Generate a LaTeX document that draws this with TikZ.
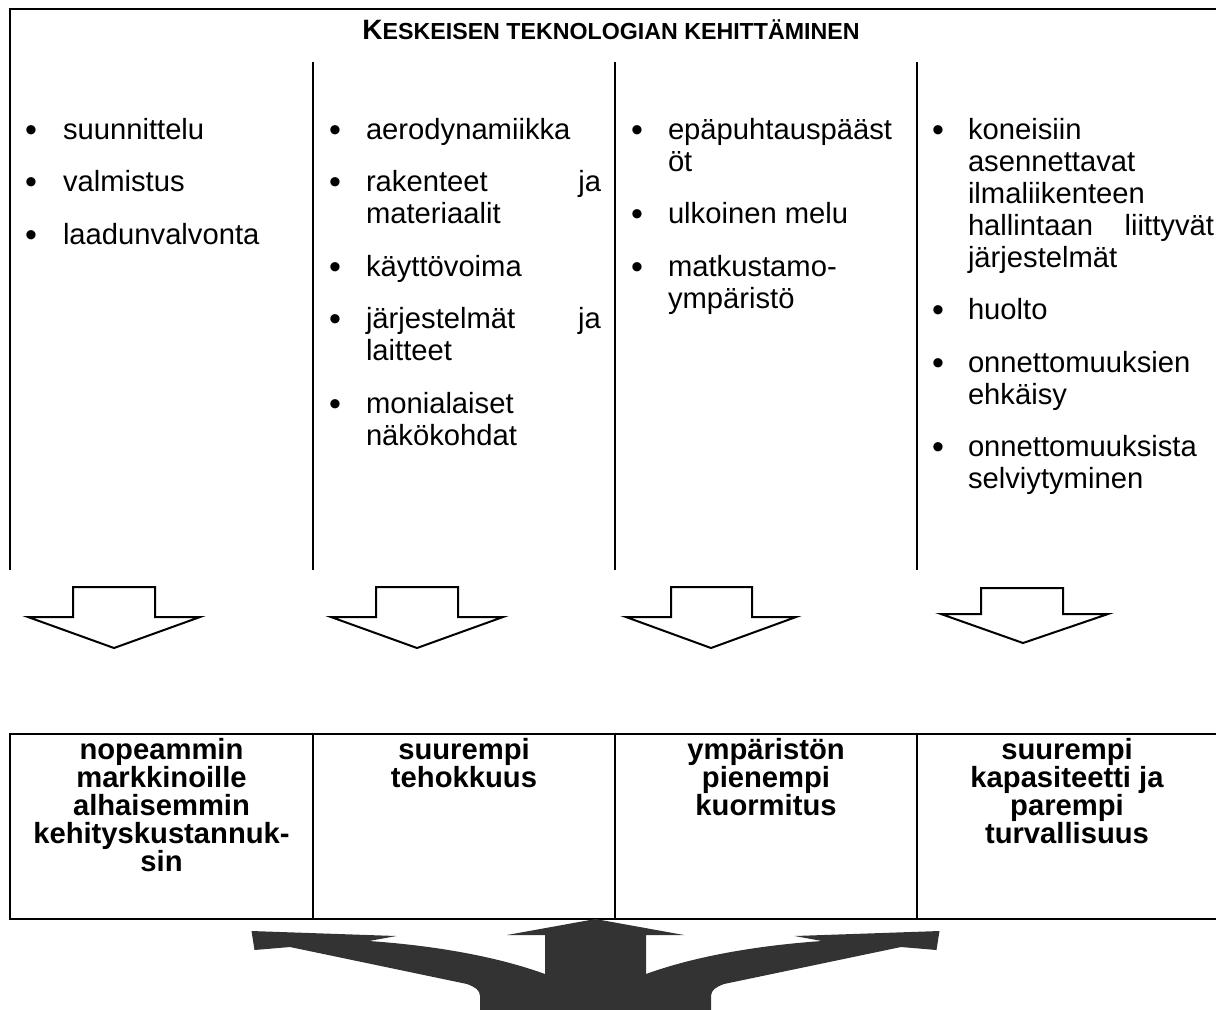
\documentclass[tikz,border=0pt]{standalone}
\usepackage{fontspec}
\setmainfont{Liberation Sans}
\definecolor{darkfill}{HTML}{333333}
\begin{document}
\begin{tikzpicture}[x=0.5pt,y=-0.5pt,line width=1pt,
  rule/.style={line width=1pt},
  bul/.style={anchor=base,inner sep=0pt,yshift=-1.2pt,font=\fontsize{17pt}{16pt}\selectfont},
  itm/.style={anchor=base west,inner sep=0pt,font=\fontsize{14.6pt}{16pt}\selectfont},
  res/.style={anchor=north,inner sep=0pt,align=center,font=\fontsize{14.6pt}{14pt}\selectfont\bfseries},
  blockarrow/.style={draw,line width=1pt,fill=white,miter limit=10},
  bigarrow/.style={fill=darkfill}]
\useasboundingbox (0,0) rectangle (1216,1009);

% top frame
\draw[rule] (10,570) -- (10,9) -- (1216,9);
\draw[rule] (313,62) -- (313,570);
\draw[rule] (615,62) -- (615,570);
\draw[rule] (917,62) -- (917,570);

\node[anchor=base,inner sep=0pt] (title) at (611,39)
  {\bfseries\fontsize{14pt}{14pt}\selectfont K\fontsize{11.6pt}{14pt}\selectfont ESKEISEN TEKNOLOGIAN KEHITTÄMINEN};

% column 1
\node[bul] (b1a) at (31,139) {•};   \node[itm] (t1a) at (62,139) {suunnittelu};
\node[bul] (b1b) at (31,191.5) {•}; \node[itm] (t1b) at (62,191.5) {valmistus};
\node[bul] (b1c) at (31,244) {•};   \node[itm] (t1c) at (62,244) {laadunvalvonta};

% column 2
\node[bul] (b2a) at (335,139) {•};   \node[itm] (t2a) at (365,139) {aerodynamiikka};
\node[bul] (b2b) at (335,191.5) {•}; \node[itm] (t2b) at (365,191.5) {\hbox to 117.5pt{rakenteet\hfill ja}};
                                     \node[itm] (t2c) at (365,223.5) {materiaalit};
\node[bul] (b2d) at (335,276) {•};   \node[itm] (t2d) at (365,276) {käyttövoima};
\node[bul] (b2e) at (335,328.5) {•}; \node[itm] (t2e) at (365,328.5) {\hbox to 117.5pt{järjestelmät\hfill ja}};
                                     \node[itm] (t2f) at (365,360.5) {laitteet};
\node[bul] (b2g) at (335,413) {•};   \node[itm] (t2g) at (365,413) {monialaiset};
                                     \node[itm] (t2h) at (365,445) {näkökohdat};

% column 3
\node[bul] (b3a) at (637,139) {•};   \node[itm] (t3a) at (667,139) {epäpuhtauspääst};
                                     \node[itm] (t3b) at (667,171) {öt};
\node[bul] (b3c) at (637,223.5) {•}; \node[itm] (t3c) at (667,223.5) {ulkoinen melu};
\node[bul] (b3d) at (637,276) {•};   \node[itm] (t3d) at (667,276) {matkustamo-};
                                     \node[itm] (t3e) at (667,308) {ympäristö};

% column 4
\node[bul] (b4a) at (938,139) {•};   \node[itm] (t4a) at (967,139) {koneisiin};
                                     \node[itm] (t4b) at (967,171) {asennettavat};
                                     \node[itm] (t4c) at (967,203) {ilmaliikenteen};
                                     \node[itm] (t4d) at (967,235) {\hbox to 123pt{hallintaan\hfill liittyvät}};
                                     \node[itm] (t4e) at (967,267) {järjestelmät};
\node[bul] (b4f) at (938,319.5) {•}; \node[itm] (t4f) at (967,319.5) {huolto};
\node[bul] (b4g) at (938,372) {•};   \node[itm] (t4g) at (967,372) {onnettomuuksien};
                                     \node[itm] (t4h) at (967,404) {ehkäisy};
\node[bul] (b4i) at (938,456.5) {•}; \node[itm] (t4i) at (967,456.5) {onnettomuuksista};
                                     \node[itm] (t4j) at (967,488.5) {selviytyminen};

% block arrows
\draw[blockarrow] (73,587) -- (155,587) -- (155,617) -- (200,617) -- (114,648) -- (28,617) -- (73,617) -- cycle;
\draw[blockarrow] (376,587) -- (458,587) -- (458,617) -- (503,617) -- (417,648) -- (331,617) -- (376,617) -- cycle;
\draw[blockarrow] (671,587) -- (752,587) -- (752,617) -- (796,617) -- (711,648) -- (626,617) -- (671,617) -- cycle;
\draw[blockarrow] (981,588) -- (1063,588) -- (1063,614) -- (1108,614) -- (1023,643) -- (941,614) -- (981,614) -- cycle;

% bottom table
\draw[rule] (1216,734) -- (10,734) -- (10,919) -- (1216,919);
\draw[rule] (313,734) -- (313,919);
\draw[rule] (615,734) -- (615,919);
\draw[rule] (917,734) -- (917,919);

\node[res] (r1) at (161.5,736) {\rule{0pt}{11pt}nopeammin\\markkinoille\\alhaisemmin\\kehityskustannuk-\\sin};
\node[res] (r2) at (464,736) {\rule{0pt}{11pt}suurempi\\tehokkuus};
\node[res] (r3) at (766,736) {\rule{0pt}{11pt}ympäristön\\pienempi\\kuormitus};
\node[res] (r4) at (1067,736) {\rule{0pt}{11pt}suurempi\\kapasiteetti ja\\parempi\\turvallisuus};

% big three-way arrow
\fill[bigarrow] (595.5,919) -- (684,935) -- (646,935) -- (646,974)
  .. controls (690,958) and (750,946) .. (822,941)
  -- (794.5,936) -- (939.5,931) -- (936.5,950) -- (901,947) -- (724,984)
  .. controls (716,987) and (711,990) .. (711,996) -- (711,1012)
  -- (480,1012) -- (480,996)
  .. controls (480,990) and (475,987) .. (467,984)
  -- (290,947) -- (254.5,950) -- (251.5,931) -- (396.5,936) -- (369,941)
  .. controls (441,946) and (501,958) .. (545,974)
  -- (545,935) -- (507,935) -- cycle;
\end{tikzpicture}
\end{document}
